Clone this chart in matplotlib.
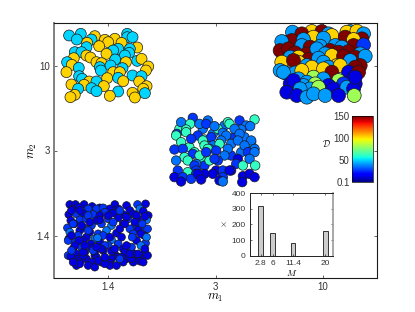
import matplotlib
matplotlib.use("Agg")
import matplotlib.pyplot as plt
import numpy as np

plt.rcParams['font.family'] = ['Liberation Sans', 'DejaVu Sans']
plt.rcParams['mathtext.fontset'] = 'cm'

FIG_W, FIG_H = 415, 312
tick_labels = ['1.4', '3', '10']
D_VALUES = dict(r=150, g=103, l=82, a=62, c=50, b=42, s=36, m=27, d=13, n=7)

# Each run: jitter, in 1/322.5 of a category step; D code per point.
A_x = [58,93,81,135,125,165,195,232,232,248,215,175,112,110,148,262,240,75,95,110,72,122,205,190,238,170,225,196,262,275,228,140,155,52,66,87,50,150,182,153,190,218,210,248,295,288,275,268,172,88,97,205,220,118,140,65,103,85,125,162,140,290,280,205,248,285,180,75,62,255]
A_y = [60,55,72,62,72,73,70,55,65,65,82,80,82,95,92,96,100,110,110,120,128,126,100,105,112,115,120,132,136,130,140,140,143,140,148,157,170,155,150,165,170,158,170,180,153,165,182,198,188,182,190,187,197,198,198,207,208,220,218,212,227,212,220,228,232,233,241,238,245,246]
A_c = "cccgcggcccgggcggcccgggcccgcccggggcgcgcccgcgcggcggcccggcggccgcggcgcgggg"

B_x = [97,270,155,185,205,260,290,125,310,215,160,190,255,72,95,305,65,130,280,225,280,310,125,150,180,210,245,60,85,105,140,170,195,235,265,300,90,115,145,175,215,250,285,315,65,115,60,100,140,190,230,270,300,75,105,155,205,240,285,70,125,190,215,265,295,160,115,140,190,235,280,90,105,130,165,205,250,285,80,150,220,260,100,175,120,110,140,160,195,235,280,285,282]
B_y = [50,48,48,48,55,50,47,55,55,60,65,68,65,80,75,70,78,72,72,90,90,88,90,95,92,105,95,105,100,112,115,100,115,110,108,115,125,125,132,128,120,122,125,122,140,140,165,135,150,140,150,135,150,172,172,155,155,150,155,170,165,160,170,170,170,185,190,200,190,195,190,205,215,210,205,210,205,205,230,220,220,215,195,215,220,240,245,235,240,240,220,185,240]
B_c = "bbgrbgg" "rbggbr" "rrrbbgb" "rmbrbrb" "rrrrbbrrb" "bgrbgrrb" "gg" "brbbgbr" "bbgbgr" "bggrdr" "lbbbld" "ddbldmd" "dbdb" "dlbdbbbdddl"

C_x = [60,130,195,225,255,125,90,160,215,245,270,135,65,100,145,205,240,285,260,92,120,140,175,210,245,272,52,80,165,190,225,50,80,115,135,155,200,240,275,65,95,130,160,185,215,235,275,45,70,105,135,150,180,205,255,285,100,120,75,50,85,110,145,170,195,235,265,285,105,150,175,110,140,165,230,250,270,287,55,85,110,135,170,190,215,45,70,95,115,160,190,210,250,270,285,248,125,65,180,190]
C_y = [70,70,60,95,95,165,125,85,150,140,125,180,50,37,45,50,45,42,60,55,55,55,70,55,72,62,85,72,62,82,70,90,80,90,102,95,90,85,110,110,100,105,120,105,115,105,105,132,130,140,120,130,115,130,120,130,145,150,155,165,165,175,130,135,150,160,140,140,180,165,165,195,140,160,175,180,160,180,195,200,205,205,195,195,195,215,215,220,205,205,215,195,212,205,215,230,222,228,225,228]
C_c = ("assmsaasmssm" "smsama" "s" "asmaass" "masss" "aamamssa" "amasssss" "mmaasasssm"
       "aa" "sasamsdmsm" "amm" "mmmasam" "amddmdd" "mmddmdddddd" "ddsds")

D_x = [45,62,88,112,135,180,215,248,272,55,72,100,125,145,165,190,225,255,42,65,85,115,150,175,205,235,265,280,48,75,95,125,160,190,220,248,275,38,58,85,110,140,170,205,240,262,45,75,105,130,155,185,225,250,278,42,70,95,120,145,170,200,235,268,40,62,85,108,135,160,190,215,245,272,55,80,110,150,175,205,230,258,40,65,90,120,145,180,210,245,270,70,95,125,170,190,215,260,278,48,78,110,140,165,200,235,255,65,100,165,185,120,150,85,130,230,170,75,55,205,150,238,120,50,75,100,135,160,195,215,245,270,55,80,105,135,175,210,240,262,50,72,100,128,165,195,232,258,275,60,85,115,140,180,215,250,270,50,90,125,195,225,265]
D_y = [42,42,42,48,52,42,45,42,40,55,50,55,55,52,55,55,60,55,72,70,68,72,65,68,72,70,62,75,90,88,85,90,85,82,85,85,88,112,100,110,105,100,105,100,105,110,125,120,125,130,120,128,115,118,115,145,135,140,145,135,148,140,130,135,150,155,150,160,155,165,160,180,150,158,175,170,172,165,180,175,170,165,195,190,185,195,180,192,185,195,185,205,205,200,205,200,205,205,195,198,210,215,215,218,200,215,212,225,225,225,225,230,220,195,210,205,182,220,215,215,200,190,182,60,60,75,75,75,60,80,75,78,100,105,95,88,95,100,95,100,135,150,120,142,140,115,140,130,140,165,185,180,175,175,165,190,175,180,165,170,205,190,215]
D_c = "dddddddmd" "ddmmmddds" "dmdmmdddd" "ddmmdmdmd" "smdmmmsdmms" "ddmsdmdmdm" "dsmsdmdmmd" "ddmmsdmdm" "dmddmsmdd"
D_extra = "ddmddmdddmdddmddmddmsddmdsddmdddddmddmdd"
D_c = (D_c + "d"*len(D_x))[:len(D_x) - len(D_extra)] + D_extra

clusters = [
    (1, 1, D_x, D_y, D_c, 159, 135, 31),
    (2, 2, C_x, C_y, C_c, 168, 135, 46),
    (1, 3, A_x, A_y, A_c, 174, 150, 62),
    (3, 3, B_x, B_y, B_c, 189, 150, 100),
]

inset_M = [2.8, 6, 11.4, 20]
inset_counts = [320, 145, 80, 160]
inset_tick_labels = ['2.8', '6', '11.4', '20']

fig = plt.figure(figsize=(FIG_W / 100, FIG_H / 100), dpi=100)
def rect(l, t, r, b):
    return [l / FIG_W, 1 - b / FIG_H, (r - l) / FIG_W, (b - t) / FIG_H]

ax = fig.add_axes(rect(54, 23, 377, 278))
ax.set_xlim(0.5, 3.5)
ax.set_ylim(0.5, 3.5)
norm = plt.Normalize(0.1, 150)
cmap = plt.get_cmap('jet')
for cx, cy, xs, ys, codes, x0, y0, size in clusters:
    codes = (codes + "m" * len(xs))[:len(xs)]
    xv = cx + (np.array(xs) - x0) / 322.5
    yv = cy - (np.array(ys) - y0) / 255.0
    colours = np.array([D_VALUES[k] for k in codes], dtype=float)
    ax.scatter(xv, yv, s=size, c=colours, cmap=cmap, norm=norm,
               edgecolors='#1a1a1a', linewidths=0.5, zorder=2)
ax.set_xticks([1, 2, 3], tick_labels)
ax.set_yticks([1, 2, 3], tick_labels)
ax.tick_params(direction='in', length=2.5, width=0.5, labelsize=7, top=True, right=True, pad=3,
               color='#222222', labelcolor='#333333')
for s in ax.spines.values():
    s.set_linewidth(0.8)
    s.set_color('#1a1a1a')
ax.spines['left'].set_linewidth(1.4)
ax.spines['left'].set_color('#808080')
ax.set_xlabel(r'$m_1$', fontsize=9, labelpad=0)
ax.set_ylabel(r'$m_2$', fontsize=9, labelpad=-2)

cax = fig.add_axes(rect(352.3, 116, 372.7, 182.3))
cb = fig.colorbar(plt.cm.ScalarMappable(norm=norm, cmap=cmap), cax=cax)
cb.set_ticks([0.1, 50, 100, 150], labels=['0.1', '50', '100', '150'])
cax.yaxis.set_ticks_position('left')
cax.yaxis.set_label_position('left')
cax.tick_params(length=0, labelsize=7, pad=2, labelcolor='#333333')
cb.outline.set_linewidth(0.5)
cb.set_label(r'$\mathcal{D}$', fontsize=6.5, rotation=0, labelpad=5)

iax = fig.add_axes(rect(250, 193, 333, 255.7))
iax.bar(inset_M, inset_counts, width=1.25, color='#cccccc', edgecolor='#333333', linewidth=0.7)
iax.set_xlim(0, 22)
iax.set_ylim(0, 400)
iax.set_xticks(inset_M, inset_tick_labels)
iax.set_yticks([0, 100, 200, 300, 400])
iax.tick_params(direction='in', length=1.5, width=0.4, labelsize=6, pad=3, top=True, right=True,
                labelcolor='#333333')
for s in iax.spines.values():
    s.set_linewidth(0.7)
    s.set_color('#222222')
iax.spines['right'].set_linewidth(1.2)
iax.spines['right'].set_color('#999999')
iax.set_xlabel(r'$M$', fontsize=6.5, labelpad=1)
iax.set_ylabel(r'$\times$', fontsize=6.5, labelpad=2)

fig.savefig('out.png', dpi=100)
